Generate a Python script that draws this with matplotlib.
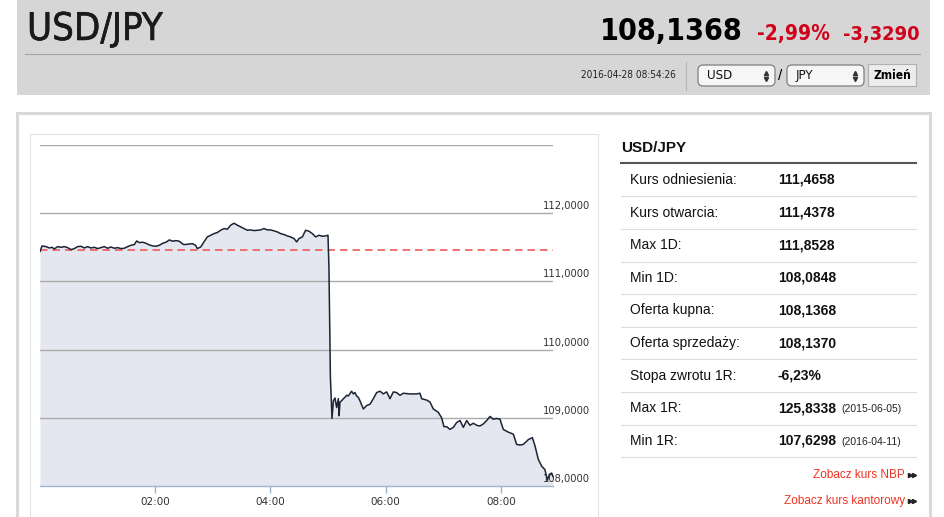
import matplotlib
matplotlib.use("Agg")
import matplotlib.pyplot as plt
import matplotlib.patheffects as pe
from matplotlib.patches import Rectangle, FancyBboxPatch

# minutes after 00:00 and USD/JPY quotes
minutes = [0.0, 2.1, 6.3, 9.7, 12.5, 14.9, 18.4, 21.9, 25.4, 28.8, 32.3, 35.8, 39.2, 42.7,
           46.2, 49.6, 53.1, 56.6, 60.1, 63.5, 67.0, 70.5, 73.9, 77.4, 80.9, 84.4, 87.8,
           91.3, 94.8, 98.3, 100.7, 103.5, 107.0, 110.4, 113.9, 117.4, 120.8, 124.3,
           127.8, 131.2, 134.7, 138.2, 141.7, 145.1, 148.6,
           150.0, 153.5, 158.7, 162.1, 163.9, 167.4, 170.8, 174.3, 177.8, 181.3, 184.7,
           188.2, 191.7, 195.1, 198.6, 202.1, 205.6, 209.0, 212.5, 216.0, 219.4, 222.9,
           226.4, 229.9, 233.3, 236.8, 240.3, 243.8, 247.2, 250.7, 254.2, 257.6, 261.1,
           264.6, 267.4, 269.8, 273.3, 276.7, 280.2, 283.7, 287.2, 290.6, 294.1, 297.6,
           300.0, 301.0, 302.5,
           304.2, 305.6, 307.3, 309.0, 310.8, 311.5, 312.5, 314.2, 316.0, 317.7, 319.4,
           321.2, 324.6, 326.4, 328.1, 329.8, 331.6, 333.3, 336.8, 340.3, 343.8, 347.2,
           350.7, 354.2, 357.6, 361.1, 364.6, 368.1, 371.5, 375.0, 378.5, 385.4, 392.4,
           395.8, 397.6, 402.8, 406.3, 409.7, 414.9, 418.4, 420.8, 423.6, 427.1, 430.6,
           434.0, 437.5, 441.0, 444.5, 447.9, 451.4, 454.9, 458.3, 461.8, 465.3, 468.8,
           472.2, 475.7, 479.2, 482.6, 487.8, 493.1, 496.5, 500.0, 503.5, 508.7, 512.9,
           515.6, 519.1, 522.6, 526.0, 528.5, 530.6, 533.0, 534.4]
rates = [111.438, 111.520, 111.510, 111.490, 111.500, 111.476, 111.510, 111.500, 111.510,
         111.495, 111.466, 111.481, 111.510, 111.515, 111.490, 111.510, 111.490, 111.500,
         111.481, 111.495, 111.510, 111.486, 111.505, 111.486, 111.495, 111.481, 111.486,
         111.510, 111.530, 111.540, 111.593, 111.569, 111.574, 111.559, 111.535, 111.520,
         111.515, 111.530, 111.559, 111.574, 111.608, 111.589, 111.598, 111.589, 111.549,
         111.540, 111.544, 111.554, 111.530, 111.481, 111.505, 111.579, 111.652, 111.677,
         111.701, 111.716, 111.750, 111.775, 111.765, 111.824, 111.853, 111.824, 111.799,
         111.775, 111.750, 111.755, 111.745, 111.750, 111.755, 111.775, 111.755, 111.755,
         111.740, 111.726, 111.701, 111.687, 111.667, 111.652, 111.628, 111.579, 111.628,
         111.652, 111.750, 111.736, 111.701, 111.652, 111.677, 111.662, 111.667,
         111.677, 111.200, 109.600,
         108.990, 109.250, 109.290, 109.150, 109.280, 109.030, 109.230, 109.250, 109.280,
         109.300, 109.330, 109.320, 109.390, 109.350, 109.370, 109.320, 109.300, 109.250,
         109.130, 109.180, 109.200, 109.280, 109.370, 109.390, 109.350, 109.380, 109.280,
         109.380, 109.370, 109.330, 109.360, 109.350, 109.350, 109.360, 109.280, 109.260,
         109.230, 109.130, 109.080, 109.000, 108.870, 108.870, 108.830, 108.860, 108.930,
         108.960, 108.860, 108.960, 108.890, 108.920, 108.890, 108.880, 108.910, 108.960,
         109.020, 108.980, 108.990, 108.980, 108.830, 108.790, 108.760, 108.610, 108.600,
         108.610, 108.680, 108.710, 108.590, 108.390, 108.290, 108.240, 108.085, 108.170,
         108.190, 108.137]

reference_rate = 111.4658
y_ticks = [108, 109, 110, 111, 112]
y_tick_labels = ["108,0000", "109,0000", "110,0000", "111,0000", "112,0000"]
x_ticks = [120, 240, 360, 480]
x_tick_labels = ["02:00", "04:00", "06:00", "08:00"]

pair = "USD/JPY"
last_rate = "108,1368"
change_pct = "-2,99%"
change_abs = "-3,3290"
timestamp = "2016-04-28 08:54:26"

table_labels = ["Kurs odniesienia:", "Kurs otwarcia:", "Max 1D:", "Min 1D:", "Oferta kupna:",
                "Oferta sprzedaży:", "Stopa zwrotu 1R:", "Max 1R:", "Min 1R:"]
table_values = ["111,4658", "111,4378", "111,8528", "108,0848", "108,1368",
                "108,1370", "-6,23%", "125,8338", "107,6298"]
table_notes = ["", "", "", "", "", "", "", "(2015-06-05)", "(2016-04-11)"]
links = ["Zobacz kurs NBP", "Zobacz kurs kantorowy"]

head = ["DejaVu Sans"]
arial = ["Liberation Sans", "DejaVu Sans"]
red = "#d0021b"

fig = plt.figure(figsize=(9.45, 5.17), dpi=100)
renderer = fig.canvas.get_renderer()


def fit(t, width):
    # scale a header text so it spans the same pixels as in the screenshot
    w = t.get_window_extent(renderer=renderer).width
    t.set_fontsize(t.get_fontsize() * width / w)


# page background, coordinates in pixels from top-left
bg = fig.add_axes([0, 0, 1, 1])
bg.set_xlim(0, 945)
bg.set_ylim(517, 0)
bg.axis("off")

bg.add_patch(Rectangle((17, 0), 913, 95, fc="#d6d6d6", ec="none"))
bg.plot([25, 920], [54, 54], color="#a3a3a3", lw=0.8)
t = bg.text(27, 40, pair, family=head, fontstretch="condensed", fontsize=24, color="#1a1a1a",
            path_effects=[pe.withStroke(linewidth=0.4, foreground="#1a1a1a")])
fit(t, 136)
t = bg.text(743, 40, last_rate, family=head, fontstretch="condensed", fontsize=24,
            fontweight="bold", ha="right")
fit(t, 143)
t = bg.text(757, 40, change_pct, family=head, fontstretch="condensed", fontsize=16,
            fontweight="bold", color=red)
fit(t, 73)
t = bg.text(920, 40, change_abs, family=head, fontstretch="condensed", fontsize=16,
            fontweight="bold", color=red, ha="right")
fit(t, 77)

t = bg.text(676, 75, timestamp, family=head, fontstretch="condensed", fontsize=8,
            ha="right", va="center", color="#222")
fit(t, 95)
bg.plot([686, 686], [62, 90], color="#b5b5b5", lw=0.8)
for x0, cur in [(698, "USD"), (787, "JPY")]:
    bg.add_patch(FancyBboxPatch((x0, 65), 77, 21, boxstyle="round,pad=0,rounding_size=5",
                                fc="#f6f6f6", ec="#7f7f7f", lw=0.9))
    bg.text(x0 + 9, 75.5, cur, family=head, fontstretch="condensed", fontsize=9.5,
            va="center", color="#111")
    bg.plot(x0 + 68, 72.5, marker="^", ms=3, color="#333")
    bg.plot(x0 + 68, 78.5, marker="v", ms=3, color="#333")
bg.text(780.5, 75.5, "/", family=arial, fontsize=11, ha="center", va="center")
bg.add_patch(Rectangle((868, 64), 48, 22, fc="#ececec", ec="#b0b0b0", lw=0.8))
t = bg.text(892, 75.5, "Zmień", family=head, fontstretch="condensed", fontsize=8.5,
            fontweight="bold", ha="center", va="center")
fit(t, 38)

# content panel
bg.add_patch(Rectangle((17, 113), 913, 430, fc="white", ec="#d9d9d9", lw=2.2))
bg.add_patch(Rectangle((30, 134), 568, 400, fc="white", ec="#e2e2e2", lw=0.8))

# right-hand table
bg.text(621, 152, pair, family=arial, fontsize=11, fontweight="bold", color="#111")
bg.plot([621, 916], [163, 163], color="#555555", lw=1.5)
for i, (lab, val, note) in enumerate(zip(table_labels, table_values, table_notes)):
    yc = 180 + i * 32.6
    bg.text(630, yc, lab, family=arial, fontsize=10, va="center", color="#111")
    bg.text(778, yc, val, family=arial, fontsize=10, fontweight="bold", va="center", color="#111")
    if note:
        bg.text(841, yc + 1, note, family=arial, fontsize=7.5, va="center", color="#222")
    bg.plot([621, 916], [yc + 16.3, yc + 16.3], color="#dddddd", lw=0.8)
for j, link in enumerate(links):
    yc = 475 + j * 26
    bg.text(905, yc, link, family=arial, fontsize=8.5, color="#ee3322", ha="right", va="center")
    bg.plot([910, 914], [yc, yc], ls="none", marker=">", ms=3, color="#222")

# chart
ax = fig.add_axes([40 / 945, (517 - 486) / 517, 513 / 945, 341 / 517])
ax.set_xlim(0, 534.4)
ax.set_ylim(108, 113)
ax.patch.set_alpha(0)
for s in ["top", "right", "left"]:
    ax.spines[s].set_visible(False)
ax.spines["bottom"].set_color("#9fb4d0")
ax.spines["bottom"].set_linewidth(1)

for yv in [109, 110, 111, 112, 113]:
    ax.axhline(yv, color="#ababab", lw=1, zorder=1)
ax.fill_between(minutes, rates, 108, color="#e4e7ef", lw=0, zorder=0.5)
ax.axhline(reference_rate, color="#ef5b5b", lw=1.2, ls=(0, (4.5, 3)), zorder=2)
ax.plot(minutes, rates, color="#1c2333", lw=1.1, zorder=3)

ax.set_yticks([])
ax.set_xticks(x_ticks)
ax.set_xticklabels(x_tick_labels, fontsize=7.5, color="#333333", family="DejaVu Sans")
ax.tick_params(axis="x", direction="out", length=5, width=1, color="#9fb4d0", pad=3)
for yv, lab in zip(y_ticks, y_tick_labels):
    ax.text(0.9805, yv + 0.03, lab, transform=ax.get_yaxis_transform(), fontsize=7.2,
            color="#333333", va="bottom", ha="left", clip_on=False, zorder=2.5)

fig.savefig("out.png", dpi=100)
